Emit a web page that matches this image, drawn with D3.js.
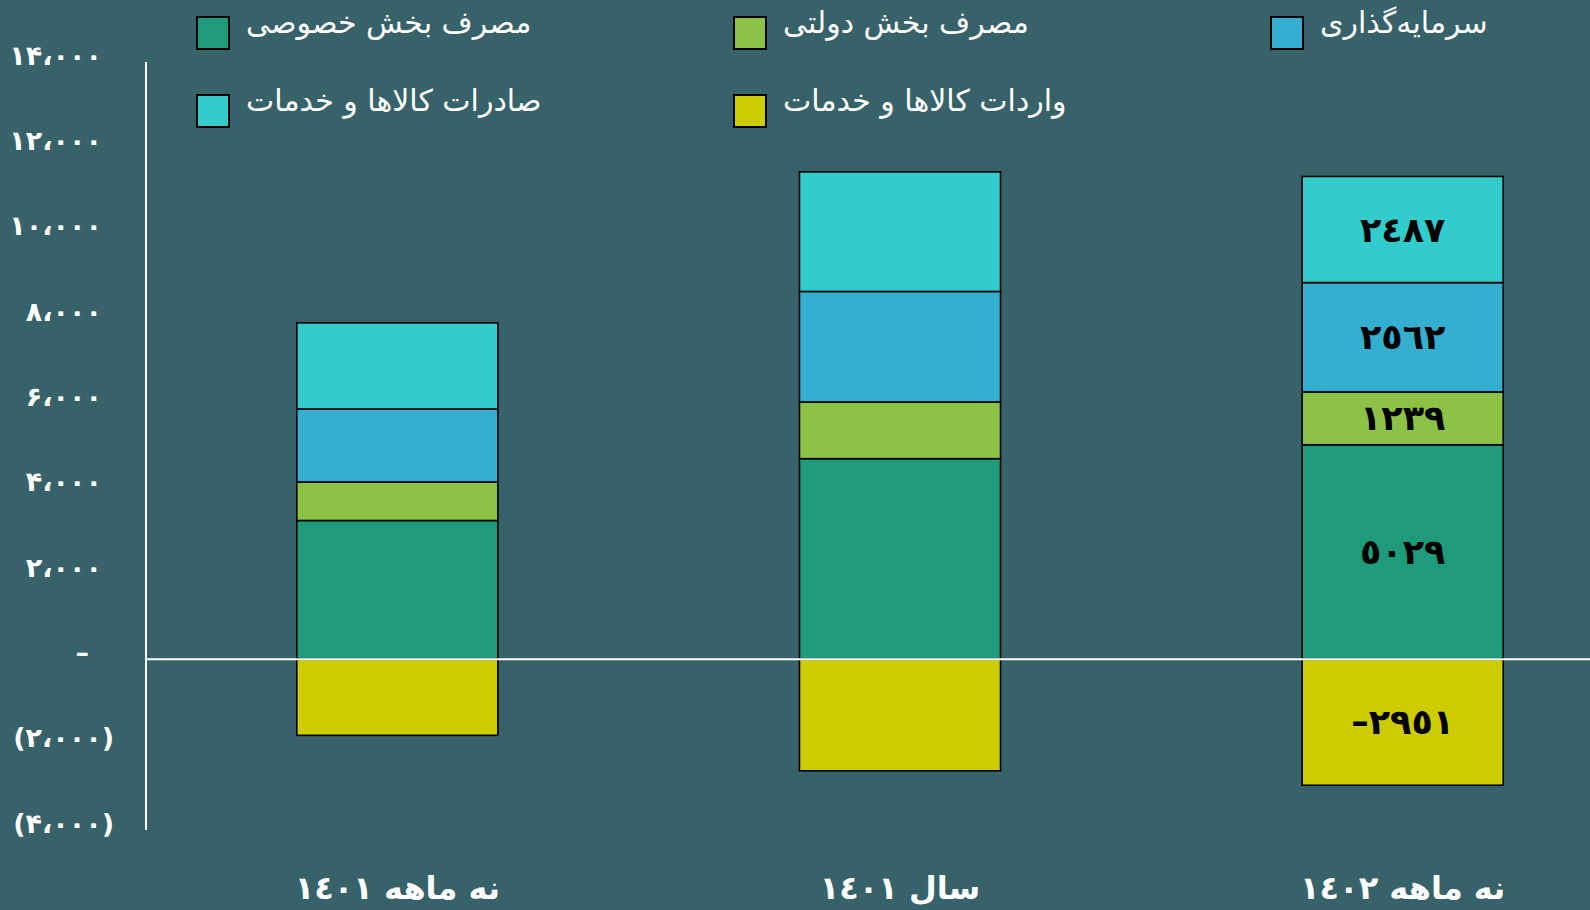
<!DOCTYPE html>
<html>
<head>
<meta charset="utf-8">
<script src="https://cdn.jsdelivr.net/npm/d3@7"></script>
<style>
  body { margin: 0; background: #37626a; }
  svg { display: block; }
</style>
</head>
<body>
<svg id="chart" width="1590" height="910"></svg>
<script>
// categories (periods)
var categories = ["نه ماهه ۱۴۰۱", "سال ۱۴۰۱", "نه ماهه ۱۴۰۲"];

// series (billion rials)
var privateCons = [3254, 4703, 5029];
var govCons     = [903, 1330, 1239];
var investment  = [1710, 2589, 2562];
var exportsGS   = [2019, 2803, 2487];
var importsGS   = [-1781, -2613, -2951];

var seriesNames  = ["مصرف بخش خصوصی", "مصرف بخش دولتی", "سرمایه‌گذاری", "صادرات کالاها و خدمات", "واردات کالاها و خدمات"];
var seriesColors = ["#1e9b7a", "#8cc246", "#36aecf", "#32cccc", "#cccc00"];

// only the last bar carries value labels
var labelBar = 2;

var yTicks = [-4000, -2000, 0, 2000, 4000, 6000, 8000, 10000, 12000, 14000];

var faDigits = "۰۱۲۳۴۵۶۷۸۹";
var arDigits = "٠١٢٣٤٥٦٧٨٩";
function toDigits(s, set) {
  return String(s).replace(/[0-9]/g, function(c){ return set[+c]; });
}
function tickFormat(v) {
  if (v == 0) return "–";
  var s = toDigits(d3.format(",")(Math.abs(v)).replace(/,/g, "،"), faDigits);
  return v < 0 ? "(" + s + ")" : s;
}
function valueFormat(v) {
  var s = toDigits(Math.abs(v), arDigits);
  return v < 0 ? "–" + s : s;
}

var svg = d3.select("#chart");
var font = "DejaVu Sans";

var yScale = d3.scaleLinear().domain([-4000, 14000]).range([830, 62]);
var xScale = d3.scaleBand().domain(categories).range([146, 1654])
  .paddingInner(0.6).paddingOuter(0.3);

var allSeries = [privateCons, govCons, investment, exportsGS, importsGS];

// stacked rects
categories.forEach(function(cat, i) {
  var pos = 0;
  allSeries.forEach(function(s, k) {
    var v = s[i], y0, y1;
    if (v >= 0) { y0 = pos; y1 = pos + v; pos = y1; }
    else { y0 = v; y1 = 0; }
    svg.append("rect")
      .attr("x", xScale(cat))
      .attr("y", yScale(y1))
      .attr("width", xScale.bandwidth())
      .attr("height", yScale(y0) - yScale(y1))
      .attr("fill", seriesColors[k])
      .attr("stroke", "#000")
      .attr("stroke-width", 1.6);
    if (i == labelBar) {
      svg.append("text")
        .attr("x", xScale(cat) + xScale.bandwidth() / 2)
        .attr("y", yScale((y0 + y1) / 2))
        .attr("text-anchor", "middle")
        .attr("dominant-baseline", "central")
        .attr("font-family", font)
        .attr("font-weight", "bold")
        .attr("font-size", "35px")
        .attr("fill", "#000")
        .text(valueFormat(v));
    }
  });
});

// axis line and zero line
svg.append("line")
  .attr("x1", 146).attr("x2", 146)
  .attr("y1", yScale(14000)).attr("y2", yScale(-4000))
  .attr("stroke", "#fff").attr("stroke-width", 2);
svg.append("line")
  .attr("x1", 146).attr("x2", 1590)
  .attr("y1", yScale(0)).attr("y2", yScale(0))
  .attr("stroke", "#fff").attr("stroke-width", 2);

// y tick labels
svg.selectAll(".ytick")
  .data(yTicks)
  .enter().append("text")
  .attr("class", "ytick")
  .attr("x", function(d){ return d < 0 ? 114 : (d == 0 ? 89 : 102); })
  .attr("y", function(d){ return yScale(d) - 7; })
  .attr("text-anchor", "end")
  .attr("dominant-baseline", "central")
  .attr("font-family", font)
  .attr("font-weight", "bold")
  .attr("font-size", "27px")
  .attr("fill", "#fff")
  .text(tickFormat);

// category labels
svg.selectAll(".xlab")
  .data(categories)
  .enter().append("text")
  .attr("class", "xlab")
  .attr("x", function(d){ return xScale(d) + xScale.bandwidth() / 2; })
  .attr("y", 888)
  .attr("text-anchor", "middle")
  .attr("dominant-baseline", "central")
  .attr("font-family", font)
  .attr("font-weight", "bold")
  .attr("font-size", "32px")
  .attr("fill", "#fff")
  .text(function(d){ return toDigits(d.replace(/[۰-۹]/g, function(c){ return faDigits.indexOf(c); }), arDigits); });

// legend
var legendPos = [[197, 17], [734, 17], [1271, 17], [197, 95], [734, 95]];
seriesNames.forEach(function(n, k) {
  var p = legendPos[k];
  svg.append("rect")
    .attr("x", p[0]).attr("y", p[1])
    .attr("width", 32).attr("height", 32)
    .attr("fill", seriesColors[k])
    .attr("stroke", "#000").attr("stroke-width", 2);
  svg.append("text")
    .attr("x", p[0] + 49)
    .attr("y", p[1] + 5)
    .attr("text-anchor", "start")
    .attr("dominant-baseline", "central")
    .attr("font-family", font)
    .attr("font-size", "30px")
    .attr("fill", "#fff")
    .text(n);
});
</script>
</body>
</html>
